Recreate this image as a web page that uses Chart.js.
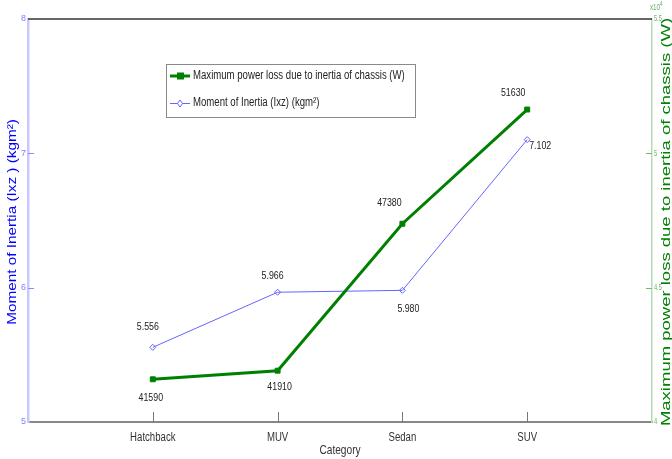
<!DOCTYPE html>
<html>
<head>
<meta charset="utf-8">
<script src="https://cdn.jsdelivr.net/npm/chart.js@4.4.1/dist/chart.umd.min.js"></script>
<style>
html,body{margin:0;padding:0;background:#fff;}
#wrap{position:relative;width:672px;height:459px;}
</style>
</head>
<body>
<div id="wrap"><canvas id="c" width="672" height="459"></canvas></div>
<script>
// ---- data ----
const categories = ['Hatchback', 'MUV', 'Sedan', 'SUV'];
const inertia = [5.556, 5.966, 5.980, 7.102];
const powerLoss = [41590, 41910, 47380, 51630];
const inertiaTicks = [5, 6, 7, 8];
const powerTicks = [40000, 45000, 50000, 55000];
const inertiaName = 'Moment of Inertia (Ixz) (kgm\u00B2)';
const powerName = 'Maximum power loss due to inertia of chassis (W)';
const xTitle = 'Category';
const leftTitle = 'Moment of Inertia (Ixz ) (kgm\u00B2)';
const rightTitle = 'Maximum power loss due to inertia of chassis (W)';

const SANS = "'Liberation Sans',Arial,sans-serif";
const GREEN = '#008000';
const BLUE = '#6464ff';

function cText(ctx, str, x, y, align, sx, font, color) {
  ctx.save();
  ctx.translate(x, y);
  ctx.scale(sx, 1);
  ctx.font = font;
  ctx.fillStyle = color;
  ctx.textAlign = align;
  ctx.textBaseline = 'middle';
  ctx.fillText(str, 0, 0);
  ctx.restore();
}
function vText(ctx, str, x, y, sy, font, color) {
  ctx.save();
  ctx.translate(x, y);
  ctx.rotate(-Math.PI / 2);
  ctx.scale(1, sy);
  ctx.font = font;
  ctx.fillStyle = color;
  ctx.textAlign = 'center';
  ctx.textBaseline = 'middle';
  ctx.fillText(str, 0, 0);
  ctx.restore();
}

const decor = {
  id: 'decor',
  afterDraw(chart) {
    const ctx = chart.ctx;
    const a = chart.chartArea;
    const xs = chart.scales.x, yl = chart.scales.y, yr = chart.scales.y2;
    ctx.save();
    ctx.strokeStyle = '#333';
    ctx.lineWidth = 1.5;
    ctx.beginPath(); ctx.moveTo(a.left, a.top); ctx.lineTo(a.right, a.top); ctx.stroke();
    ctx.lineWidth = 1;
    ctx.strokeStyle = '#777';
    xs.ticks.forEach(t => {
      const px = Math.round(xs.getPixelForValue(t.value)) + 0.5;
      ctx.beginPath(); ctx.moveTo(px, a.bottom); ctx.lineTo(px, a.bottom - 10); ctx.stroke();
    });
    ctx.strokeStyle = '#8c8cff';
    inertiaTicks.slice(1, -1).forEach(v => {
      const py = Math.round(yl.getPixelForValue(v)) + 0.5;
      ctx.beginPath(); ctx.moveTo(a.left, py); ctx.lineTo(a.left + 6, py); ctx.stroke();
    });
    ctx.strokeStyle = '#70b870';
    powerTicks.slice(1, -1).forEach(v => {
      const py = Math.round(yr.getPixelForValue(v)) + 0.5;
      ctx.beginPath(); ctx.moveTo(a.right, py); ctx.lineTo(a.right - 6, py); ctx.stroke();
    });
    ctx.restore();

    // axis titles (drawn first so tick labels stay readable)
    vText(ctx, leftTitle, 13, 222, 0.82, '15.3px ' + SANS, '#0000ff');
    vText(ctx, rightTitle, 667, 222, 0.68, '18.5px ' + SANS, GREEN);

    xs.ticks.forEach(t => {
      cText(ctx, categories[t.value - 1], xs.getPixelForValue(t.value), 438, 'center', 0.8, '12px ' + SANS, '#333');
    });
    powerTicks.forEach(v => {
      cText(ctx, String(v / 10000), a.right + 2, yr.getPixelForValue(v), 'left', 0.62, '9px ' + SANS, '#6ab06a');
    });

    const lf = '11px ' + SANS;
    const inMeta = chart.getDatasetMeta(1).data;
    const pwMeta = chart.getDatasetMeta(0).data;
    const inOff = [[-5, -20], [-5, -16], [6, 19], [13, 6]];
    const pwOff = [[-2, 19], [2, 16], [-13, -21], [-14, -17]];
    inertia.forEach((v, i) => {
      const p = inMeta[i];
      cText(ctx, v.toFixed(3), p.x + inOff[i][0], p.y + inOff[i][1], 'center', 0.8, lf, '#222');
    });
    powerLoss.forEach((v, i) => {
      const p = pwMeta[i];
      cText(ctx, String(v), p.x + pwOff[i][0], p.y + pwOff[i][1], 'center', 0.8, lf, '#222');
    });

    ctx.save();
    ctx.fillStyle = '#fff';
    ctx.fillRect(166, 64, 249, 53);
    ctx.strokeStyle = '#8a8a8a';
    ctx.lineWidth = 1;
    ctx.strokeRect(166.5, 64.5, 249, 53);
    ctx.strokeStyle = GREEN; ctx.lineWidth = 3;
    ctx.beginPath(); ctx.moveTo(170, 76); ctx.lineTo(190, 76); ctx.stroke();
    ctx.fillStyle = GREEN; ctx.fillRect(177, 72.5, 7, 7);
    ctx.strokeStyle = BLUE; ctx.lineWidth = 1;
    ctx.beginPath(); ctx.moveTo(170, 103.5); ctx.lineTo(190, 103.5); ctx.stroke();
    ctx.fillStyle = '#fff';
    ctx.beginPath(); ctx.moveTo(180, 100); ctx.lineTo(182.5, 103.5); ctx.lineTo(180, 107); ctx.lineTo(177.5, 103.5); ctx.closePath(); ctx.fill(); ctx.stroke();
    ctx.restore();
    const legf = '12px ' + SANS;
    cText(ctx, powerName, 193, 76, 'left', 0.8, legf, '#222');
    cText(ctx, inertiaName, 193, 103, 'left', 0.8, legf, '#222');

    cText(ctx, xTitle, (a.left + a.right) / 2, 450, 'center', 0.78, '13px ' + SANS, '#333');

    cText(ctx, 'x10', a.right + 3, 8, 'center', 0.7, '9px ' + SANS, '#6ab06a');
    cText(ctx, '4', a.right + 9, 4, 'center', 0.7, '7px ' + SANS, '#6ab06a');
  }
};

const chart = new Chart(document.getElementById('c'), {
  type: 'line',
  data: {
    datasets: [
      {
        label: powerName,
        yAxisID: 'y2',
        data: powerLoss.map((v, i) => ({ x: i + 1, y: v })),
        borderColor: GREEN,
        backgroundColor: GREEN,
        borderWidth: 3,
        pointStyle: 'rect',
        pointRadius: 3.5,
        pointBorderWidth: 1,
        pointBackgroundColor: GREEN,
        pointBorderColor: GREEN,
        tension: 0
      },
      {
        label: inertiaName,
        yAxisID: 'y',
        data: inertia.map((v, i) => ({ x: i + 1, y: v })),
        borderColor: BLUE,
        backgroundColor: '#fff',
        borderWidth: 1,
        pointStyle: 'rectRot',
        pointRadius: 3,
        pointBorderWidth: 1,
        pointBackgroundColor: 'rgba(255,255,255,0)',
        pointBorderColor: BLUE,
        tension: 0
      }
    ]
  },
  options: {
    responsive: false,
    animation: false,
    devicePixelRatio: 1,
    layout: { padding: { top: 19, left: 0, right: 0, bottom: 0 } },
    plugins: { legend: { display: false }, tooltip: { enabled: false } },
    scales: {
      x: {
        type: 'linear',
        min: 0, max: 5,
        afterBuildTicks: s => { s.ticks = categories.map((c, i) => ({ value: i + 1 })); },
        afterFit: s => { s.height = 37; },
        ticks: { display: false, callback: v => categories[v - 1] || '' },
        grid: { display: false, drawTicks: false, tickLength: 0 },
        border: { display: true, color: '#888', width: 2 }
      },
      y: {
        position: 'left',
        min: 5, max: 8,
        afterBuildTicks: s => { s.ticks = inertiaTicks.map(v => ({ value: v })); },
        afterFit: s => { s.width = 28; },
        ticks: { color: '#8080ff', font: { size: 9, family: SANS }, padding: 2 },
        grid: { display: false, drawTicks: false, tickLength: 0 },
        border: { display: true, color: '#c8c8ff', width: 2.5 }
      },
      y2: {
        position: 'right',
        min: 40000, max: 55000,
        afterBuildTicks: s => { s.ticks = powerTicks.map(v => ({ value: v })); },
        afterFit: s => { s.width = 20; },
        ticks: { display: false, callback: v => String(v / 10000) },
        grid: { display: false, drawTicks: false, tickLength: 0 },
        border: { display: true, color: '#b4dcb4', width: 1.5 }
      }
    }
  },
  plugins: [decor]
});
</script>
</body>
</html>
